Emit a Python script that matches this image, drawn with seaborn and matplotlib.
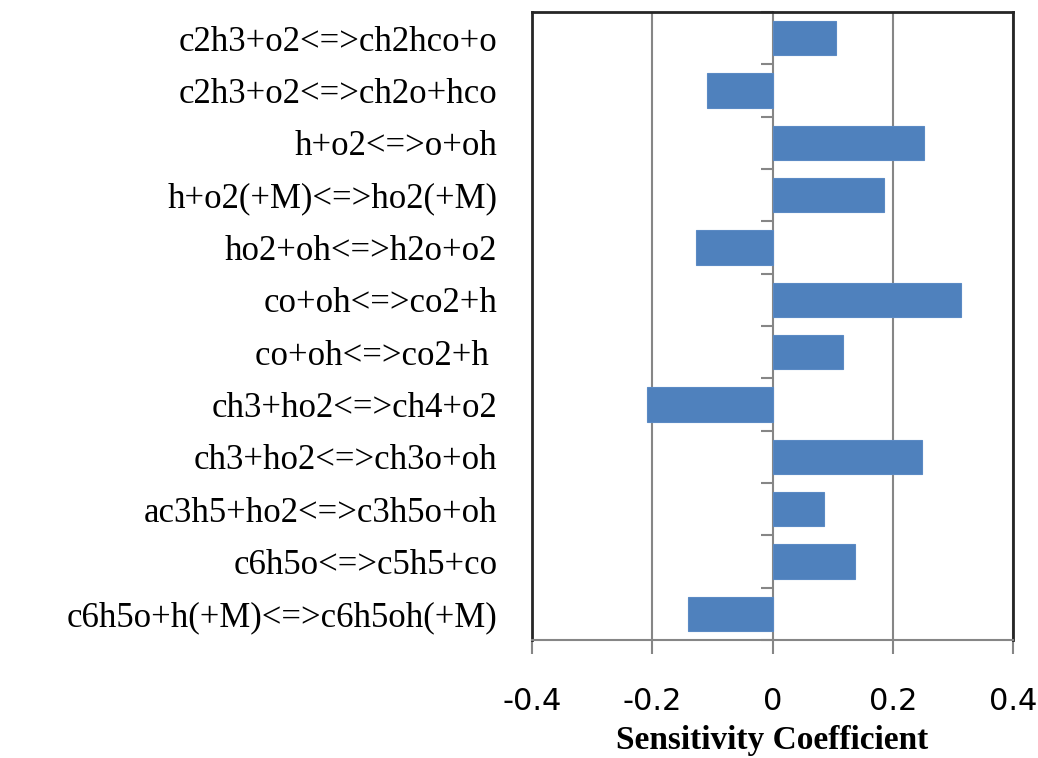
import matplotlib
matplotlib.use("Agg")
import matplotlib.pyplot as plt
import seaborn as sns
import pandas as pd
import numpy as np

reactions = [
    "c2h3+o2<=>ch2hco+o",
    "c2h3+o2<=>ch2o+hco",
    "h+o2<=>o+oh",
    "h+o2(+M)<=>ho2(+M)",
    "ho2+oh<=>h2o+o2",
    "co+oh<=>co2+h",
    "co+oh<=>co2+h ",
    "ch3+ho2<=>ch4+o2",
    "ch3+ho2<=>ch3o+oh",
    "ac3h5+ho2<=>c3h5o+oh",
    "c6h5o<=>c5h5+co",
    "c6h5o+h(+M)<=>c6h5oh(+M)",
]
sensitivity = [0.106, -0.109, 0.252, 0.186, -0.127, 0.314, 0.117, -0.209, 0.248, 0.086, 0.137, -0.140]
xticks = [-0.4, -0.2, 0, 0.2, 0.4]
xticklabels = ["-0.4", "-0.2", "0", "0.2", "0.4"]

df = pd.DataFrame({"reaction": reactions, "sensitivity": sensitivity})

sns.set_theme(style="white")
fig = plt.figure(figsize=(10.38, 7.58), dpi=100)
ax = fig.add_axes([532/1038, 1-640/758, (1013-532)/1038, (640-12)/758])

sns.barplot(data=df, x="sensitivity", y="reaction", orient="h", color="#4F81BD",
            saturation=1, width=0.65, edgecolor="#5B8AC4", linewidth=0.8, ax=ax, zorder=3)

ax.set_xlim(-0.4, 0.4)
ax.set_ylim(len(reactions)-0.5, -0.5)
ax.set_xticks(xticks)
ax.set_xticklabels(xticklabels, fontsize=22, family="DejaVu Sans", color="black")
ax.set_yticks(range(len(reactions)))
ax.set_yticklabels(reactions, fontsize=25, family="Liberation Serif", color="black")
ax.tick_params(axis="y", length=0, pad=25)
ax.tick_params(axis="x", length=10, width=1.5, color="#868686", pad=24, direction="out", bottom=True)
ax.set_ylabel("")
ax.set_xlabel("Sensitivity Coefficient", fontsize=24, fontweight="bold", family="Liberation Serif",
              color="black", labelpad=6)

for x in xticks:
    ax.axvline(x, color="#868686", lw=1.5, zorder=1)

for side in ["left", "right", "top"]:
    ax.spines[side].set_color("#262626")
    ax.spines[side].set_linewidth(2)
ax.spines["bottom"].set_color("#868686")
ax.spines["bottom"].set_linewidth(1.5)

sec = ax.secondary_yaxis(0.5)
sec.set_yticks(np.arange(-0.5, len(reactions), 1.0))
sec.set_yticklabels([])
sec.tick_params(length=9, width=1.5, color="#868686", direction="in")
sec.spines["left"].set_color("#868686")
sec.spines["left"].set_linewidth(1.5)

fig.savefig("out.png", dpi=100)
